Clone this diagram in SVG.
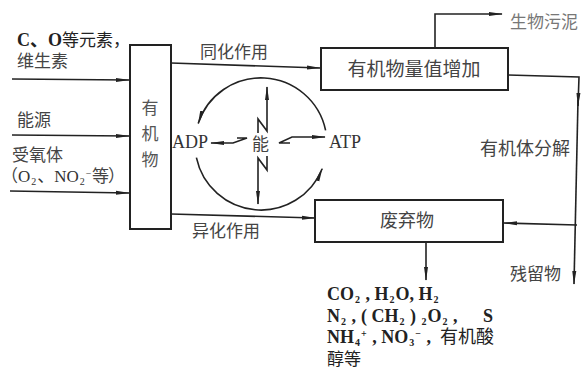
<svg xmlns="http://www.w3.org/2000/svg" width="584" height="373" viewBox="0 0 584 373">
<style>
.t{font-family:"Liberation Serif","Noto Sans CJK SC",serif;font-size:17px;fill:#333}
.c{font-family:"Noto Sans CJK SC",sans-serif;font-size:17px;fill:#444}
.b{font-family:"Liberation Serif","Noto Sans CJK SC",serif;font-size:18px;font-weight:bold;fill:#222}
.s{font-size:10px}
.box{fill:#fff;stroke:#222;stroke-width:2}
.ln{fill:none;stroke:#222;stroke-width:1.6}
</style>
<defs>
<marker id="ah" viewBox="0 0 14 6" refX="13" refY="3" markerWidth="14" markerHeight="6" markerUnits="userSpaceOnUse" orient="auto">
<path d="M0,1 L14,3 L0,5 Z" fill="#222"/>
</marker>
</defs>
<g id="connectors">
<line class="ln" x1="12" y1="79" x2="129" y2="80" marker-end="url(#ah)"/>
<line class="ln" x1="12" y1="135" x2="129" y2="136" marker-end="url(#ah)"/>
<line class="ln" x1="10" y1="191" x2="129" y2="193" marker-end="url(#ah)"/>
<line class="ln" x1="171" y1="63" x2="320" y2="68" marker-end="url(#ah)"/>
<line class="ln" x1="171" y1="214" x2="315" y2="218" marker-end="url(#ah)"/>
<polyline class="ln" points="435,48 435,14 502,14" marker-end="url(#ah)"/>
<polyline class="ln" points="508,75 579,77 578,106" marker-end="url(#ah)"/>
<line class="ln" x1="578" y1="100" x2="574" y2="284" marker-end="url(#ah)"/>
<line class="ln" x1="577" y1="225" x2="504" y2="223" marker-end="url(#ah)"/>
<line class="ln" x1="426" y1="242" x2="426" y2="280" marker-end="url(#ah)"/>
<path class="ln" d="M325.6,130.3 A66,66 0 0 0 198.2,123.6" marker-end="url(#ah)"/>
<path class="ln" d="M196.4,157.7 A66,66 0 0 0 322.2,168.7" marker-end="url(#ah)"/>
<path class="ln" d="M258,133 L258,119 L267,131 L267,87" marker-end="url(#ah)"/>
<path class="ln" d="M267,156 L267,170 L258,158 L258,204" marker-end="url(#ah)"/>
<path class="ln" d="M237,138 L247,138 L233,143 L211,143" marker-end="url(#ah)"/>
<path class="ln" d="M290,143 L279,143 L292,137 L325,137" marker-end="url(#ah)"/>
</g>
<g id="inputs">
<text class="b" x="17" y="46">C、O<tspan class="c" style="font-weight:normal;fill:#222">等元素，</tspan></text>
<text class="c" x="17" y="67">维生素</text>
<text class="c" x="17" y="126">能源</text>
<text class="c" x="12" y="161">受氧体</text>
<text class="t" x="1" y="182"><tspan class="c">（</tspan>O<tspan class="s" dx="1" dy="3">2</tspan><tspan dx="1" dy="-3">、NO</tspan><tspan class="s" dx="1" dy="3">2</tspan><tspan class="s" dx="1" dy="-8">−</tspan><tspan class="c" x="92" dy="5">等</tspan><tspan class="c" x="108">）</tspan></text>
</g>
<g id="organic">
<rect class="box" x="130" y="45" width="41" height="184"/>
<text class="c" x="150" y="114" text-anchor="middle" style="fill:#555">有</text>
<text class="c" x="150" y="140" text-anchor="middle" style="fill:#555">机</text>
<text class="c" x="150" y="166" text-anchor="middle" style="fill:#555">物</text>
</g>
<g id="labels">
<text class="c" x="200" y="58">同化作用</text>
<text class="c" x="192" y="237">异化作用</text>
<text class="c" x="510" y="28" style="fill:#777">生物污泥</text>
<text class="c" x="480" y="155" style="font-size:18px">有机体分解</text>
<text class="c" x="510" y="280">残留物</text>
</g>
<g id="energy">
<text class="t" x="172" y="148" style="font-size:18px">ADP</text>
<text class="c" x="252" y="150" style="font-size:17px">能</text>
<text class="t" x="329" y="148" style="font-size:18px">ATP</text>
</g>
<g id="increase">
<rect class="box" x="321" y="48" width="187" height="42"/>
<text class="c" x="414" y="76" text-anchor="middle" style="font-size:19px">有机物量值增加</text>
</g>
<g id="waste">
<rect class="box" x="315" y="200" width="188" height="42"/>
<text class="c" x="407" y="227" text-anchor="middle" style="font-size:18px">废弃物</text>
</g>
<g id="products">
<text class="b" x="327" y="300">CO<tspan class="s" dx="1" dy="3">2</tspan><tspan dx="1" dy="-3"> , H</tspan><tspan class="s" dx="1" dy="3">2</tspan><tspan dx="1" dy="-3">O, H</tspan><tspan class="s" dx="1" dy="3">2</tspan></text>
<text class="b" x="327" y="322">N<tspan class="s" dx="1" dy="3">2</tspan><tspan dx="1" dy="-3"> , </tspan><tspan x="361">( CH</tspan><tspan class="s" dx="1" dy="3">2</tspan><tspan dx="1" dy="-3"> ) </tspan><tspan class="s" dx="1" dy="3">2</tspan><tspan dx="1" dy="-3">O</tspan><tspan class="s" dx="1" dy="3">2</tspan><tspan dx="1" dy="-3"> ,</tspan><tspan x="483">S</tspan></text>
<text class="b" x="327" y="343">NH<tspan class="s" dx="1" dy="3">4</tspan><tspan class="s" dx="1" dy="-9">+</tspan><tspan dx="1" dy="6"> , NO</tspan><tspan class="s" dx="1" dy="3">3</tspan><tspan class="s" dx="1" dy="-9">−</tspan><tspan dx="1" dy="6"> ,</tspan><tspan class="c" x="440" style="font-weight:normal;fill:#222;font-size:18px">有机酸</tspan></text>
<text class="c" x="327" y="365" style="fill:#222">醇等</text>
</g>
</svg>
